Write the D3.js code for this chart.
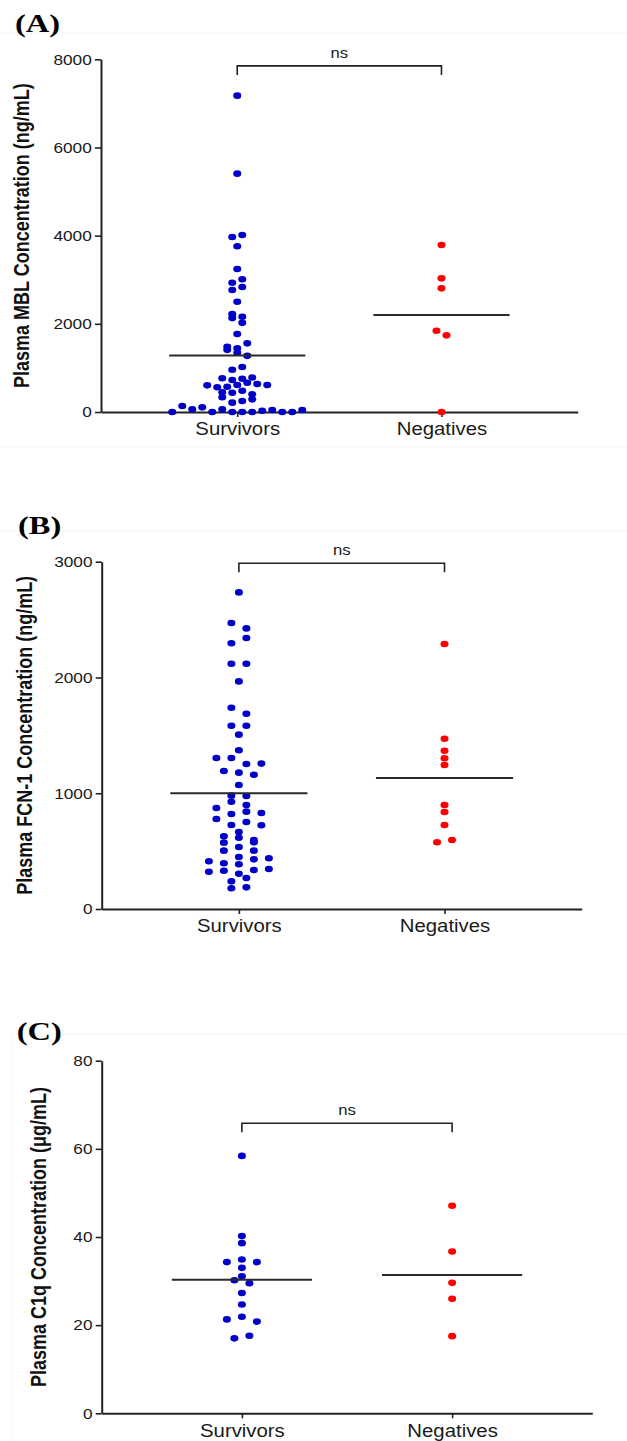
<!DOCTYPE html>
<html>
<head>
<meta charset="utf-8">
<script src="https://cdn.jsdelivr.net/npm/d3@7"></script>
<style>
    body { margin: 0; background: #fff; }
    svg { display: block; }
    text { font-family: "Liberation Sans", Arial, sans-serif; fill: #1a1a1a; }
</style>
</head>
<body>
<svg id="chart" width="627" height="1441"></svg>
<script>
const groups = ["Survivors", "Negatives"];

//values, roughly left to right inside each row of dots
const mblSurvivors = [7175, 5406, 3969, 4015, 3758, 3244, 2930, 3010, 2767, 2835, 2502, 2130, 2022, 2220, 2162,
    1769, 1478, 1410, 1444, 1557, 1345, 1274, 960, 1020,
    764, 726, 755, 783, 605, 560, 574, 612, 665, 635, 612, 446, 438, 483, 333, 401,
    0, 136, 212, 60, 106, 0, 60, 0, 0, 0, 30, 45, 0, 0, 250, 45, 287];
const mblNegatives = [3788, 3032, 2805, 1844, 1739, 0];

const fcnSurvivors = [2735, 2470, 2424, 2295, 2341, 2119, 2119, 1966, 1739, 1687, 1583, 1583, 1506, 1371,
    1304, 1304, 1252, 1256, 1192, 1178, 1160, 1071, 979, 976, 927, 898, 872, 821, 841, 829, 777, 726, 752, 723,
    665, 628, 616, 596, 573, 536, 576, 504, 449, 504, 412, 395, 386, 429, 438, 322, 331, 305, 337, 346,
    239, 268, 179, 187];
const fcnNegatives = [2289, 1471, 1367, 1302, 1244, 898, 838, 726, 576, 596];

const c1qSurvivors = [58.4, 40.2, 38.6, 34.3, 34.9, 34.3, 33.0, 31.1, 30.2, 29.5, 27.3, 24.7, 21.3, 21.9, 20.8, 17.0, 17.6];
const c1qNegatives = [47.1, 36.7, 29.6, 26.0, 17.5];

const mblTicks = [0, 2000, 4000, 6000, 8000];
const fcnTicks = [0, 1000, 2000, 3000];
const c1qTicks = [0, 20, 40, 60, 80];

const panelLabels = ["(A)", "(B)", "(C)"];
const yTitles = ["Plasma MBL Concentration (ng/mL)", "Plasma FCN-1 Concentration (ng/mL)", "Plasma C1q Concentration (\u03bcg/mL)"];
const sigLabels = ["ns", "ns", "ns"];
const bracketLevels = [7850, 2986, 65.8];

const colors = ["#0000c8", "#ff0000"];

const svg = d3.select("#chart");
svg.append("rect").attr("width", 627).attr("height", 1441).attr("fill", "#fff");

//layout of each panel (pixels)
const panels = [
    {values: [mblSurvivors, mblNegatives], ticks: mblTicks, top: 59.3, bottom: 412, left: 101, right: 577.7,
        titleX: 15, titleY: 31.7, yTitleX: 28.5, spacing: 10, rowGap: 6},
    {values: [fcnSurvivors, fcnNegatives], ticks: fcnTicks, top: 561.7, bottom: 909, left: 101.7, right: 581.7,
        titleX: 18, titleY: 534.3, yTitleX: 32, spacing: 15, rowGap: 6.4},
    {values: [c1qSurvivors, c1qNegatives], ticks: c1qTicks, top: 1060.7, bottom: 1413.3, left: 101.7, right: 592.3,
        titleX: 16.7, titleY: 1040, yTitleX: 45.5, spacing: 15, rowGap: 5.3}
];

//faint frame lines left over from the source figure
[33.3, 446.7, 530.7].forEach(yy => svg.append("line")
    .attr("x1", 0).attr("x2", 627).attr("y1", yy).attr("y2", yy)
    .attr("stroke", "#f4f4f4").attr("stroke-width", 1));
svg.append("path")
    .attr("d", "M12,1441V1034H627")
    .attr("fill", "none").attr("stroke", "#f4f4f4").attr("stroke-width", 1);

panels.forEach((p, i) => drawPanel(p, i));

function drawPanel(p, i) {
    const g = svg.append("g");

    const y = d3.scaleLinear()
        .domain([0, d3.max(p.ticks)])
        .range([p.bottom, p.top]);

    const x = d3.scalePoint()
        .domain(groups)
        .range([p.left, p.right])
        .padding(0.667);

    //panel letter
    g.append("text")
        .attr("transform", `translate(${p.titleX},${p.titleY}) scale(1.25,1)`)
        .style("font-family", "'Liberation Serif', 'Times New Roman', serif")
        .style("font-weight", "bold")
        .style("font-size", "26px")
        .style("fill", "#000")
        .text(panelLabels[i]);

    //y axis
    const yAxis = g.append("g")
        .attr("transform", `translate(${p.left},0)`)
        .call(d3.axisLeft(y).tickValues(p.ticks).tickSize(6).tickPadding(2).tickSizeOuter(0).tickFormat(d3.format("d")));
    yAxis.select(".domain").attr("stroke", "#222").attr("stroke-width", 2);
    yAxis.selectAll(".tick line").attr("stroke", "#222").attr("stroke-width", 1.6);
    yAxis.selectAll(".tick text")
        .attr("transform", "scale(1.15,1)")
        .style("font-size", "15px")
        .style("font-family", "'Liberation Sans', Arial, sans-serif")
        .attr("fill", "#1a1a1a");

    //x axis
    const xAxis = g.append("g")
        .attr("transform", `translate(0,${p.bottom})`)
        .call(d3.axisBottom(x).tickSize(5).tickSizeOuter(0));
    xAxis.select(".domain").attr("stroke", "#222").attr("stroke-width", 2);
    xAxis.selectAll(".tick line").attr("stroke", "#222").attr("stroke-width", 1.6);
    xAxis.selectAll(".tick text")
        .attr("y", 23.5)
        .attr("dy", null)
        .attr("transform", "scale(1.1,1)")
        .style("font-size", "18.5px")
        .style("font-family", "'Liberation Sans', Arial, sans-serif")
        .attr("fill", "#1a1a1a");

    //y axis title
    g.append("text")
        .attr("transform", `translate(${p.yTitleX},${(p.top + p.bottom) / 2}) scale(1.2,1) rotate(-90)`)
        .attr("text-anchor", "middle")
        .style("font-weight", "bold")
        .style("font-size", "18px")
        .style("fill", "#111")
        .text(yTitles[i]);

    //dots
    groups.forEach((grp, gi) => {
        const vals = p.values[gi];
        const offsets = rowOffsets(vals, y, p.rowGap, p.spacing);

        g.append("g")
            .selectAll("ellipse")
            .data(vals)
            .join("ellipse")
                .attr("cx", (d, k) => x(grp) + offsets[k])
                .attr("cy", d => y(d))
                .attr("rx", 4)
                .attr("ry", 3.3)
                .attr("fill", colors[gi]);

        //mean line
        const half = x.step() / 3;
        g.append("line")
            .attr("x1", x(grp) - half)
            .attr("x2", x(grp) + half)
            .attr("y1", y(d3.mean(vals)))
            .attr("y2", y(d3.mean(vals)))
            .attr("stroke", "#2a2a2a")
            .attr("stroke-width", 2);
    });

    //significance bracket
    const yb = y(bracketLevels[i]);
    const x0 = x(groups[0]), x1 = x(groups[1]);
    g.append("path")
        .attr("d", `M${x0},${yb + 9}V${yb}H${x1}V${yb + 9}`)
        .attr("fill", "none")
        .attr("stroke", "#222")
        .attr("stroke-width", 1.6);
    g.append("text")
        .attr("transform", `translate(${(x0 + x1) / 2},${yb - 8}) scale(1.15,1)`)
        .attr("text-anchor", "middle")
        .style("font-size", "14.5px")
        .text(sigLabels[i]);
}

//spread dots that share a row (Prism style): group by vertical closeness, centre each row
function rowOffsets(values, y, gap, spacing) {
    const order = d3.range(values.length).sort((a, b) => values[a] - values[b]);
    const offsets = new Array(values.length).fill(0);
    let i = 0;
    while (i < order.length) {
        const y0 = y(values[order[i]]);
        let j = i;
        while (j < order.length && Math.abs(y(values[order[j]]) - y0) < gap) j++;
        const row = order.slice(i, j).sort((a, b) => a - b);
        row.forEach((k, n) => offsets[k] = (n - (row.length - 1) / 2) * spacing);
        i = j;
    }
    return offsets;
}
</script>
</body>
</html>
